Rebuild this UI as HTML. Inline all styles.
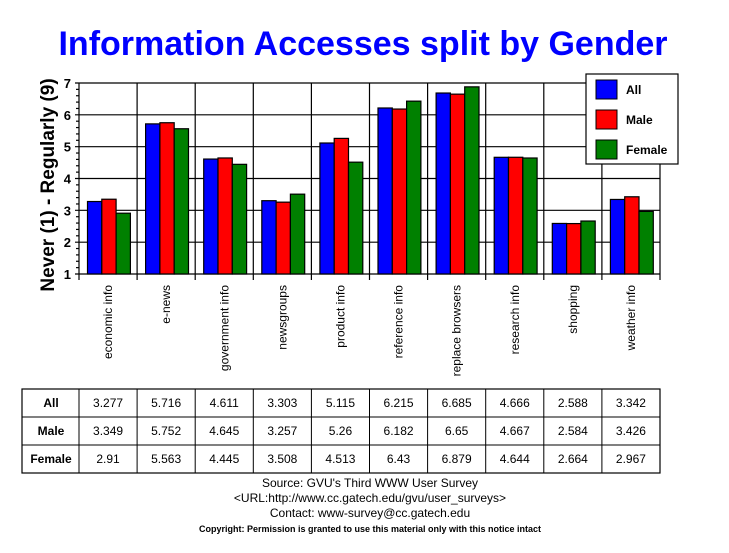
<!DOCTYPE html>
<html><head><meta charset="utf-8"><style>
body{margin:0;background:#fff}
svg{display:block;font-family:"Liberation Sans",Arial,sans-serif}
</style></head><body>
<svg width="729" height="553" viewBox="0 0 729 553" xmlns="http://www.w3.org/2000/svg">
<rect width="729" height="553" fill="#fff"/>
<text x="363" y="55" font-size="34" font-weight="bold" fill="#0000ff" text-anchor="middle">Information Accesses split by Gender</text>
<text transform="translate(54,185) rotate(-90)" font-size="19" font-weight="bold" text-anchor="middle">Never (1) - Regularly (9)</text>
<g id="grid" stroke="#000" stroke-width="1.2"></g>
<g id="bars" stroke="#000" stroke-width="1.2"></g>
<g id="lbl" font-size="12"></g>
<g id="tbl" font-size="12" text-anchor="middle"></g>
<rect x="586" y="74" width="92" height="90" fill="#fff" stroke="#000" stroke-width="1.2"/>
<rect x="596" y="80" width="21" height="19" fill="#0000ff" stroke="#000"/>
<rect x="596" y="110" width="21" height="19" fill="#ff0000" stroke="#000"/>
<rect x="596" y="140" width="21" height="19" fill="#008000" stroke="#000"/>
<text x="626" y="94" font-size="12" font-weight="bold">All</text>
<text x="626" y="124" font-size="12" font-weight="bold">Male</text>
<text x="626" y="154" font-size="12" font-weight="bold">Female</text>
<g text-anchor="middle" font-size="12">
<text x="370" y="487">Source: GVU's Third WWW User Survey</text>
<text x="370" y="502">&lt;URL:http://www.cc.gatech.edu/gvu/user_surveys&gt;</text>
<text x="370" y="517">Contact: www-survey@cc.gatech.edu</text>
<text x="370" y="532" font-size="9" font-weight="bold">Copyright: Permission is granted to use this material only with this notice intact</text>
</g>
</svg>
<script>
var ns="http://www.w3.org/2000/svg";
function el(p,t,a,txt){var e=document.createElementNS(ns,t);for(var k in a)e.setAttribute(k,a[k]);if(txt!=null)e.textContent=txt;document.getElementById(p).appendChild(e);}
var L=79,R=660,T=83,B=274,cw=58.1,u=(B-T)/6;
var cats=["economic info","e-news","government info","newsgroups","product info","reference info","replace browsers","research info","shopping","weather info"];
var d=[[3.277,5.716,4.611,3.303,5.115,6.215,6.685,4.666,2.588,3.342],[3.349,5.752,4.645,3.257,5.26,6.182,6.65,4.667,2.584,3.426],[2.91,5.563,4.445,3.508,4.513,6.43,6.879,4.644,2.664,2.967]];
var ds=[["3.277","5.716","4.611","3.303","5.115","6.215","6.685","4.666","2.588","3.342"],["3.349","5.752","4.645","3.257","5.26","6.182","6.65","4.667","2.584","3.426"],["2.91","5.563","4.445","3.508","4.513","6.43","6.879","4.644","2.664","2.967"]];
var cols=["#0000ff","#ff0000","#008000"];
for(var v=1;v<=7;v++){var y=B-(v-1)*u;el("grid","line",{x1:L-4,x2:R,y1:y,y2:y});el("lbl","text",{x:L-8,y:y+5,"font-size":"13","font-weight":"bold","text-anchor":"end"},v);
 if(v<7)for(var m=1;m<5;m++){var yy=y-m*u/5;el("grid","line",{x1:L-3,x2:L,y1:yy,y2:yy});}}
el("grid","line",{x1:L,x2:L,y1:T,y2:B+6});
for(var i=0;i<10;i++){var x0=L+i*cw;el("grid","line",{x1:x0+cw,x2:x0+cw,y1:T,y2:B+6});
 for(var s=0;s<3;s++){var h=(d[s][i]-1)*u;el("bars","rect",{x:x0+8.5+s*14.3,y:B-h,width:14.3,height:h,fill:cols[s]});}
 el("lbl","text",{transform:"translate("+(x0+cw/2+4)+",285) rotate(-90)","text-anchor":"end"},cats[i]);}
var tl=22,tt=389,rh=28;
el("tbl","rect",{x:tl,y:tt,width:R-tl,height:rh*3,fill:"none",stroke:"#000","stroke-width":1.2});
el("tbl","line",{x1:tl,x2:R,y1:tt+rh,y2:tt+rh,stroke:"#000"});el("tbl","line",{x1:tl,x2:R,y1:tt+2*rh,y2:tt+2*rh,stroke:"#000"});
var rn=["All","Male","Female"];
for(var r=0;r<3;r++){el("tbl","text",{x:51,y:tt+r*rh+18,"font-weight":"bold"},rn[r]);
 for(var i=0;i<10;i++)el("tbl","text",{x:L+i*cw+cw/2,y:tt+r*rh+18},ds[r][i]);}
for(var i=0;i<10;i++)el("tbl","line",{x1:L+i*cw,x2:L+i*cw,y1:tt,y2:tt+3*rh,stroke:"#000"});
</script>
</body></html>
